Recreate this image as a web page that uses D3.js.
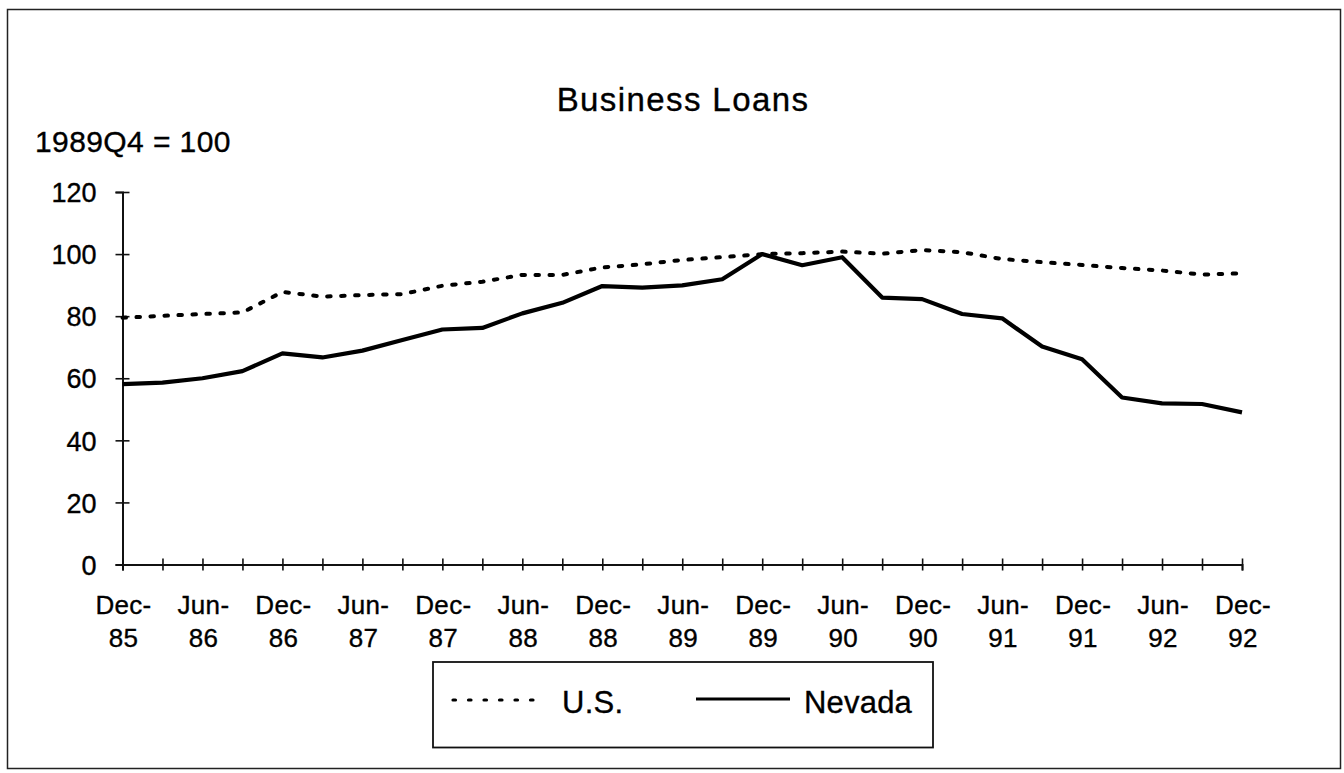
<!DOCTYPE html>
<html>
<head>
<meta charset="utf-8">
<script src="https://cdn.jsdelivr.net/npm/d3@7"></script>
<style>
  html, body { margin: 0; padding: 0; background: #fff; }
  svg { display: block; }
  text { font-family: "Liberation Sans", Arial, Helvetica, sans-serif; fill: #000; stroke: #000; stroke-width: 0.35; }
</style>
</head>
<body>
<svg id="chart" width="1344" height="773"></svg>
<script>
// Quarterly index of business loans, 1989Q4 = 100
const quarters = [
  "Dec-85","Mar-86","Jun-86","Sep-86","Dec-86","Mar-87","Jun-87","Sep-87",
  "Dec-87","Mar-88","Jun-88","Sep-88","Dec-88","Mar-89","Jun-89","Sep-89",
  "Dec-89","Mar-90","Jun-90","Sep-90","Dec-90","Mar-91","Jun-91","Sep-91",
  "Dec-91","Mar-92","Jun-92","Sep-92","Dec-92"
];
const usValues = [
  79.5, 80.1, 80.7, 81.2, 87.8, 86.3, 86.8, 87.1,
  89.8, 91.1, 93.3, 93.3, 95.7, 96.7, 98.1, 99.0,
  100.0, 100.3, 100.8, 100.1, 101.3, 100.6, 98.4, 97.4,
  96.5, 95.5, 94.7, 93.4, 93.8
];
const nevadaValues = [
  58.1, 58.6, 60.0, 62.3, 68.0, 66.7, 68.9, 72.3,
  75.7, 76.2, 80.9, 84.3, 89.7, 89.2, 89.9, 91.9,
  100.0, 96.4, 99.0, 86.0, 85.5, 80.7, 79.3, 70.2,
  66.1, 53.8, 51.9, 51.7, 49.0
];
const yTicks = [0, 20, 40, 60, 80, 100, 120];
const seriesNames = ["U.S.", "Nevada"];

const svg = d3.select("#chart");

// outer frame
svg.append("rect")
  .attr("x", 7.5).attr("y", 9.5)
  .attr("width", 1333).attr("height", 759)
  .attr("fill", "none").attr("stroke", "#222").attr("stroke-width", 1.5);

const x = d3.scalePoint().domain(quarters).range([122.5, 1242]);
const y = d3.scaleLinear().domain([0, 120]).range([564.5, 192]);

// title and unit note
svg.append("text")
  .attr("x", 683).attr("y", 111)
  .attr("text-anchor", "middle")
  .attr("font-size", 33)
  .attr("letter-spacing", 1.4)
  .text("Business Loans");

svg.append("text")
  .attr("x", 35).attr("y", 152)
  .attr("font-size", 30)
  .attr("letter-spacing", 0.4)
  .text("1989Q4 = 100");

// y axis
const yAxis = svg.append("g")
  .attr("transform", `translate(${x(quarters[0])},0)`)
  .call(d3.axisLeft(y).tickValues(yTicks).tickSize(7).tickPadding(19));
yAxis.select(".domain").attr("stroke", "#111").attr("stroke-width", 2);
yAxis.selectAll(".tick line").attr("x1", 7).attr("x2", -7).attr("stroke", "#111").attr("stroke-width", 1.6);
yAxis.selectAll(".tick text")
  .attr("font-size", 27).attr("letter-spacing", 0)
  .attr("fill", "#000").attr("dy", "0.36em");

// x axis
const xAxis = svg.append("g")
  .attr("transform", `translate(0,${y(0)})`)
  .call(d3.axisBottom(x).tickSize(6).tickFormat(() => ""));
xAxis.select(".domain").attr("stroke", "#111").attr("stroke-width", 2);
xAxis.selectAll(".tick line").attr("y1", -6).attr("y2", 6).attr("stroke", "#111").attr("stroke-width", 1.6);

// two-line month/year labels on every second quarter
const labelled = quarters.filter((q, i) => i % 2 === 0);
const xl = svg.append("g").attr("class", "xlabels");
labelled.forEach(q => {
  const [mon, yr] = q.split("-");
  const t = xl.append("text")
    .attr("text-anchor", "middle")
    .attr("font-size", 26).attr("letter-spacing", 0.3);
  t.append("tspan").attr("x", x(q) + 1).attr("y", 614).text(mon + "-");
  t.append("tspan").attr("x", x(q) + 1).attr("y", 647).text(yr);
});

// series lines
const line = d3.line()
  .x((d, i) => x(quarters[i]))
  .y(d => y(d));

svg.append("path")
  .datum(usValues)
  .attr("d", line)
  .attr("fill", "none")
  .attr("stroke", "#000")
  .attr("stroke-width", 4)
  .attr("stroke-linecap", "round")
  .attr("stroke-dasharray", "3.5 10.5");

svg.append("path")
  .datum(nevadaValues)
  .attr("d", line)
  .attr("fill", "none")
  .attr("stroke", "#000")
  .attr("stroke-width", 4.2)
  .attr("stroke-linejoin", "round");

// legend
const lg = svg.append("g");
lg.append("rect")
  .attr("x", 433).attr("y", 662)
  .attr("width", 500).attr("height", 85.5)
  .attr("fill", "none").attr("stroke", "#111").attr("stroke-width", 1.8);

lg.append("line")
  .attr("x1", 453).attr("x2", 546).attr("y1", 700).attr("y2", 700)
  .attr("stroke", "#000").attr("stroke-width", 3.2)
  .attr("stroke-linecap", "round")
  .attr("stroke-dasharray", "2.5 13");
lg.append("text")
  .attr("x", 562).attr("y", 713)
  .attr("font-size", 31).attr("letter-spacing", 0.3)
  .text(seriesNames[0]);

lg.append("line")
  .attr("x1", 696).attr("x2", 790).attr("y1", 699).attr("y2", 699)
  .attr("stroke", "#000").attr("stroke-width", 3.2);
lg.append("text")
  .attr("x", 804).attr("y", 713)
  .attr("font-size", 31).attr("letter-spacing", 0.2)
  .text(seriesNames[1]);
</script>
</body>
</html>
